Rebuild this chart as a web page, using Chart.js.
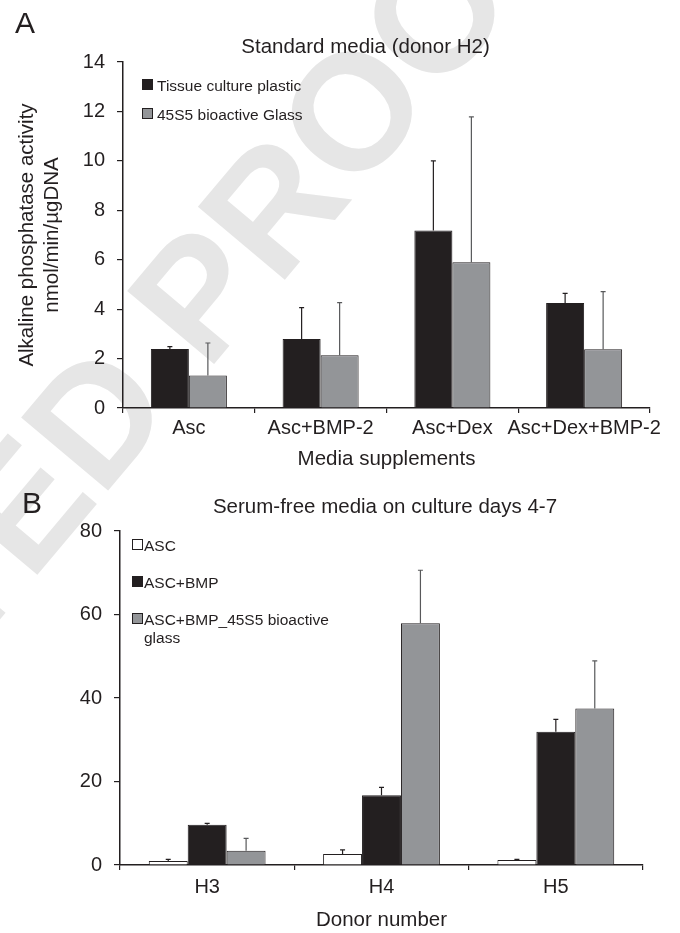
<!DOCTYPE html>
<html><head><meta charset="utf-8">
<script src="https://cdn.jsdelivr.net/npm/chart.js@4/dist/chart.umd.min.js"></script>
<style>
html,body{margin:0;padding:0;background:#fff;}
#wrap{position:relative;width:680px;height:933px;overflow:hidden;background:#fff;}
#wrap canvas{position:absolute;left:0;}
</style></head>
<body><div id="wrap">
<canvas id="wm" width="680" height="933" style="top:0"></canvas>
<canvas id="cA" width="680" height="475" style="top:0"></canvas>
<canvas id="cB" width="680" height="458" style="top:475px"></canvas>
</div>
<script>
// ---------- data ----------
const catsA = ['Asc', 'Asc+BMP-2', 'Asc+Dex', 'Asc+Dex+BMP-2'];
const tcpMean = [2.39, 2.79, 7.18, 4.25];
const tcpSD = [0.09, 1.27, 2.82, 0.39];
const glassMean = [1.31, 2.13, 5.90, 2.38];
const glassSD = [1.32, 2.13, 5.88, 2.33];
const ticksA = [0, 2, 4, 6, 8, 10, 12, 14];

const catsB = ['H3', 'H4', 'H5'];
const ascMean = [0.96, 2.63, 1.20];
const ascSD = [0.40, 0.97, 0.15];
const bmpMean = [9.66, 16.7, 31.9];
const bmpSD = [0.32, 1.9, 3.0];
const bmpGlassMean = [3.43, 57.9, 37.5];
const bmpGlassSD = [2.97, 12.7, 11.4];
const ticksB = [0, 20, 40, 60, 80];

// ---------- styling ----------
const FONT = '"Liberation Sans", Arial, Helvetica, sans-serif';
const INK = '#231f20';
const GREY = '#939598';
Chart.defaults.font.family = FONT;
Chart.defaults.color = INK;

// watermark (background)
(function(){
  const c = document.getElementById('wm').getContext('2d');
  c.fillStyle = '#e6e6e6';
  c.font = 'bold 165px ' + FONT;
  c.textBaseline = 'alphabetic';
  const pre = c.measureText('UNCORRECTE').width;
  c.save();
  c.translate(101, 499);
  c.rotate(-50 * Math.PI / 180);
  c.fillText('UNCORRECTED PROOF', -pre, 0);
  c.restore();
})();

const errorBars = {
  id: 'errorBars',
  afterDatasetsDraw(chart) {
    const ctx = chart.ctx, ys = chart.scales.y;
    chart.data.datasets.forEach((ds, i) => {
      const meta = chart.getDatasetMeta(i);
      meta.data.forEach((bar, j) => {
        const base = ys.getPixelForValue(ds.data[j]);
        const top = ys.getPixelForValue(ds.data[j] + ds.errors[j]);
        ctx.save();
        ctx.strokeStyle = ds.errorColor;
        ctx.lineWidth = 1.2;
        ctx.beginPath();
        ctx.moveTo(bar.x, base); ctx.lineTo(bar.x, top);
        ctx.moveTo(bar.x - 2.5, top); ctx.lineTo(bar.x + 2.5, top);
        ctx.stroke();
        ctx.restore();
      });
    });
  }
};

function wrapText(ctx, text, maxW) {
  const words = text.split(' ');
  const lines = []; let cur = '';
  words.forEach(w => {
    const t = cur ? cur + ' ' + w : w;
    if (ctx.measureText(t).width > maxW && cur) { lines.push(cur); cur = w; } else cur = t;
  });
  if (cur) lines.push(cur);
  return lines;
}

function decor(cfg) {
  return {
    id: 'decor',
    afterDraw(chart) {
      const ctx = chart.ctx;
      ctx.save();
      ctx.fillStyle = INK;
      ctx.textBaseline = 'alphabetic';
      ctx.font = '30px ' + FONT;
      ctx.textAlign = 'left';
      ctx.fillText(cfg.letter, cfg.letterX, cfg.letterY);
      ctx.font = '20.5px ' + FONT;
      ctx.textAlign = 'center';
      ctx.fillText(cfg.title, cfg.titleX, cfg.titleY);
      ctx.font = '15.5px ' + FONT;
      ctx.textAlign = 'left';
      let y = cfg.legTop;
      chart.data.datasets.forEach(ds => {
        ctx.fillStyle = ds.backgroundColor;
        ctx.fillRect(cfg.legX, y, 11, 11);
        ctx.strokeStyle = INK; ctx.lineWidth = 1;
        ctx.strokeRect(cfg.legX + 0.5, y + 0.5, 10, 10);
        ctx.fillStyle = INK;
        wrapText(ctx, ds.label, cfg.legWrap).forEach((ln, k) => {
          ctx.fillText(ln, cfg.legX + cfg.textGap, y + 12 + k * 18);
        });
        y += cfg.legStep;
      });
      ctx.restore();
    }
  };
}

function xScale(title, height, tickPad, titlePad) {
  return {
    grid: { display: true, drawOnChartArea: false, drawTicks: true, tickLength: 5, color: INK, lineWidth: 1.2, offset: true },
    border: { display: true, color: INK, width: 1.5 },
    ticks: { color: INK, font: { size: 20 }, padding: tickPad, maxRotation: 0, autoSkip: false },
    title: { display: true, text: title, color: INK, font: { size: 20.5 }, padding: { top: 0, bottom: titlePad } },
    afterFit(s) { s.height = height; }
  };
}
function yScale(max, tickList, width, title) {
  const o = {
    min: 0, max: max,
    grid: { display: true, drawOnChartArea: false, drawTicks: true, tickLength: 6, color: INK, lineWidth: 1.2 },
    border: { display: true, color: INK, width: 1.5 },
    ticks: { color: INK, font: { size: 20 }, padding: 12 },
    afterBuildTicks(s) { s.ticks = tickList.map(v => ({ value: v })); },
    afterFit(s) { s.width = width; }
  };
  if (title) o.title = { display: true, text: title, color: INK, font: { size: 20.5 }, padding: { top: 15, bottom: 0 } };
  else o.title = { display: false };
  return o;
}

// ---------- chart A ----------
new Chart(document.getElementById('cA'), {
  type: 'bar',
  data: {
    labels: catsA,
    datasets: [
      { label: 'Tissue culture plastic', data: tcpMean, errors: tcpSD, backgroundColor: INK, borderColor: INK, borderWidth: 1, errorColor: INK },
      { label: '45S5 bioactive Glass', data: glassMean, errors: glassSD, backgroundColor: GREY, borderColor: INK, borderWidth: 1, errorColor: '#58595b' }
    ]
  },
  options: {
    responsive: false, animation: false,
    layout: { padding: { left: 0, right: 30, top: 62, bottom: 0 } },
    datasets: { bar: { categoryPercentage: 0.577, barPercentage: 1 } },
    plugins: { legend: { display: false }, tooltip: { enabled: false }, title: { display: false } },
    scales: {
      x: xScale('Media supplements', 67, 3, 3),
      y: yScale(14, ticksA, 123, ['Alkaline phosphatase activity', 'nmol/min/\u00b5gDNA'])
    }
  },
  plugins: [errorBars, decor({ letter: 'A', letterX: 15, letterY: 33, title: 'Standard media (donor H2)', titleX: 365.5, titleY: 53,
    legX: 142, legTop: 79, legStep: 29, textGap: 15, legWrap: 400 })]
});

// ---------- chart B ----------
new Chart(document.getElementById('cB'), {
  type: 'bar',
  data: {
    labels: catsB,
    datasets: [
      { label: 'ASC', data: ascMean, errors: ascSD, backgroundColor: '#ffffff', borderColor: INK, borderWidth: 1, errorColor: INK },
      { label: 'ASC+BMP', data: bmpMean, errors: bmpSD, backgroundColor: INK, borderColor: INK, borderWidth: 1, errorColor: INK },
      { label: 'ASC+BMP_45S5 bioactive glass', data: bmpGlassMean, errors: bmpGlassSD, backgroundColor: GREY, borderColor: INK, borderWidth: 1, errorColor: '#58595b' }
    ]
  },
  options: {
    responsive: false, animation: false,
    layout: { padding: { left: 0, right: 37, top: 56, bottom: 0 } },
    datasets: { bar: { categoryPercentage: 0.67, barPercentage: 1 } },
    plugins: { legend: { display: false }, tooltip: { enabled: false }, title: { display: false } },
    scales: {
      x: xScale('Donor number', 68, 5, 0),
      y: yScale(80, ticksB, 120, null)
    }
  },
  plugins: [errorBars, decor({ letter: 'B', letterX: 22, letterY: 38, title: 'Serum-free media on culture days 4-7', titleX: 385, titleY: 38,
    legX: 132, legTop: 64, legStep: 37, textGap: 12, legWrap: 200 })]
});
</script>
</body></html>
